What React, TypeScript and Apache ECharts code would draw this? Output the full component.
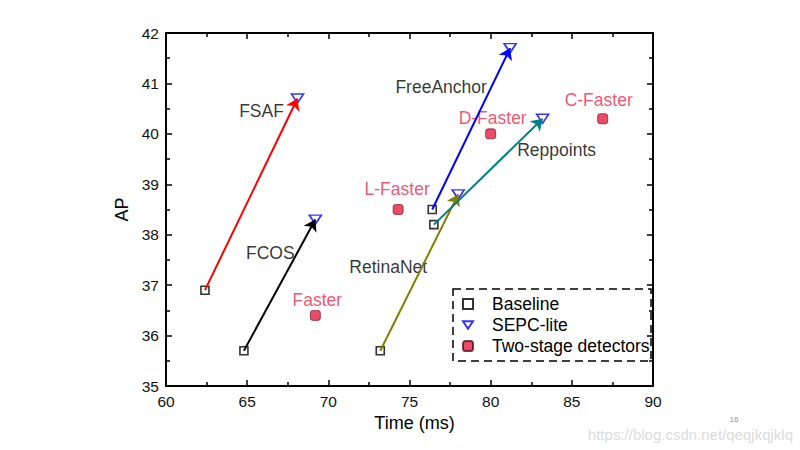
import React, { useEffect, useRef } from 'react';
import * as echarts from 'echarts';

// One-stage detectors: baseline vs SEPC-lite
const detectors = ['FSAF', 'FCOS', 'RetinaNet', 'FreeAnchor', 'Reppoints'];
const baselineTime = [62.4, 64.8, 73.2, 76.4, 76.5];
const baselineAP = [36.9, 35.7, 35.7, 38.5, 38.2];
const sepcTime = [68.1, 69.2, 78.0, 81.2, 83.2];
const sepcAP = [40.7, 38.3, 38.8, 41.7, 40.3];

// Two-stage detectors
const twoStage = ['Faster', 'L-Faster', 'D-Faster', 'C-Faster'];
const twoStageTime = [69.2, 74.3, 80.0, 86.9];
const twoStageAP = [36.4, 38.5, 40.0, 40.3];

// Axis ticks
const xTicks = [60, 65, 70, 75, 80, 85, 90];
const yTicks = [35, 36, 37, 38, 39, 40, 41, 42];

// styles
const arrowColors = ['#ff0000', '#000000', '#808000', '#0000ff', '#008080'];
const sepcLabelOffsets = [[-36, 12], [-45, 33], [-70, 73], [-69, 39], [14, 31]];
const twoStageLabelOffsets = [[2, -15], [-1, -21], [2, -16], [-4, -19]];

const FONT = 'Liberation Sans, Arial, sans-serif';
const RED = '#e91e3e';
const LABEL_RED = '#f0284a';

export default function App() {
  const ref = useRef<HTMLDivElement>(null);
  useEffect(() => {
    const chart = echarts.init(ref.current!, null, { renderer: 'svg' });
    const axisCommon = (showLabel: boolean) => ({
      axisLine: { show: true, onZero: false, lineStyle: { color: '#000', width: 2 } },
      axisTick: { show: true, inside: true, length: 6, lineStyle: { color: '#000', width: 1.5 } },
      minorTick: { show: true, splitNumber: 2, length: 4, lineStyle: { color: '#000', width: 1.5 } },
      splitLine: { show: false },
      axisLabel: { show: showLabel, color: '#111', fontSize: 15.5, fontFamily: FONT, margin: 7 },
    });
    const xMin = xTicks[0], xMax = xTicks[xTicks.length - 1];
    const yMin = yTicks[0], yMax = yTicks[yTicks.length - 1];
    const textLabel = (d: string, off: number[], color: string) => ({
      show: true, position: 'inside', formatter: d, offset: off,
      fontSize: 17.5, fontFamily: FONT, color, textBorderWidth: 0, textShadowBlur: 0,
    });
    const option: any = {
      animation: false,
      backgroundColor: '#fff',
      grid: { left: 166, top: 33, width: 487, height: 353 },
      xAxis: [
        {
          type: 'value', min: xMin, max: xMax, interval: 5, position: 'bottom',
          name: 'Time (ms)', nameLocation: 'middle', nameGap: 25,
          nameTextStyle: { fontSize: 18, fontFamily: FONT, color: '#000', padding: [0, 0, 0, 10] },
          ...axisCommon(true),
        },
        { type: 'value', min: xMin, max: xMax, interval: 5, position: 'top', ...axisCommon(false) },
      ],
      yAxis: [
        {
          type: 'value', min: yMin, max: yMax, interval: 1, position: 'left',
          name: 'AP', nameLocation: 'middle', nameGap: 32,
          nameTextStyle: { fontSize: 18, fontFamily: FONT, color: '#000' },
          ...axisCommon(true),
        },
        { type: 'value', min: yMin, max: yMax, interval: 1, position: 'right', ...axisCommon(false) },
      ],
      legend: {
        orient: 'vertical', left: 457, top: 290, itemGap: 3, itemWidth: 10, itemHeight: 10,
        textStyle: { fontSize: 17.5, fontFamily: FONT, color: '#000', padding: [0, 0, 0, 14] },
        data: ['Baseline', 'SEPC-lite', 'Two-stage detectors'],
      },
      series: [
        {
          name: 'Baseline', type: 'scatter', symbol: 'rect', symbolSize: 8, z: 2,
          itemStyle: { color: '#fff', borderColor: '#000', borderWidth: 1.6 },
          data: detectors.map((d, i) => ({ name: d, value: [baselineTime[i], baselineAP[i]] })),
        },
        {
          name: 'SEPC-lite', type: 'scatter', symbol: 'path://M0,0L12,0L6,9Z', symbolSize: [12, 9], z: 2,
          itemStyle: { color: '#fff', borderColor: '#0000ff', borderWidth: 1.6 },
          data: detectors.map((d, i) => ({
            name: d, value: [sepcTime[i], sepcAP[i]],
            label: textLabel(d, sepcLabelOffsets[i], '#000'),
          })),
        },
        {
          name: 'Two-stage detectors', type: 'scatter', symbol: 'roundRect', symbolSize: 10, z: 2,
          itemStyle: { color: RED, borderColor: '#5a1020', borderWidth: 0.8 },
          data: twoStage.map((d, i) => ({
            name: d, value: [twoStageTime[i], twoStageAP[i]],
            label: textLabel(d, twoStageLabelOffsets[i], LABEL_RED),
          })),
        },
        {
          type: 'lines', coordinateSystem: 'cartesian2d', z: 3,
          symbol: ['none', 'arrow'], symbolSize: 11,
          lineStyle: { width: 2, opacity: 1 },
          data: detectors.map((d, i) => ({
            name: d,
            coords: [[baselineTime[i], baselineAP[i]], [sepcTime[i], sepcAP[i]]],
            lineStyle: { color: arrowColors[i], width: 2 },
          })),
        },
      ],
      graphic: [
        {
          type: 'rect', shape: { x: 453, y: 289, width: 198, height: 72 },
          style: { fill: 'none', stroke: '#000', lineWidth: 1.5, lineDash: [8, 5] }, z: 10,
        },
        {
          type: 'text', x: 793, y: 442,
          style: { text: 'https://blog.csdn.net/qeqjkqjklq', fill: '#dcdcdc', fontSize: 15, fontFamily: FONT, align: 'right', verticalAlign: 'bottom' },
        },
        {
          type: 'text', x: 734, y: 419,
          style: { text: '16', fill: '#8a94a6', fontSize: 8, fontFamily: FONT, align: 'center', verticalAlign: 'middle' },
        },
      ],
    };
    chart.setOption(option);
    return () => chart.dispose();
  }, []);
  return <div ref={ref} style={{ position: 'fixed', left: 0, top: 0, width: 800, height: 450, background: '#fff' }} />;
}
